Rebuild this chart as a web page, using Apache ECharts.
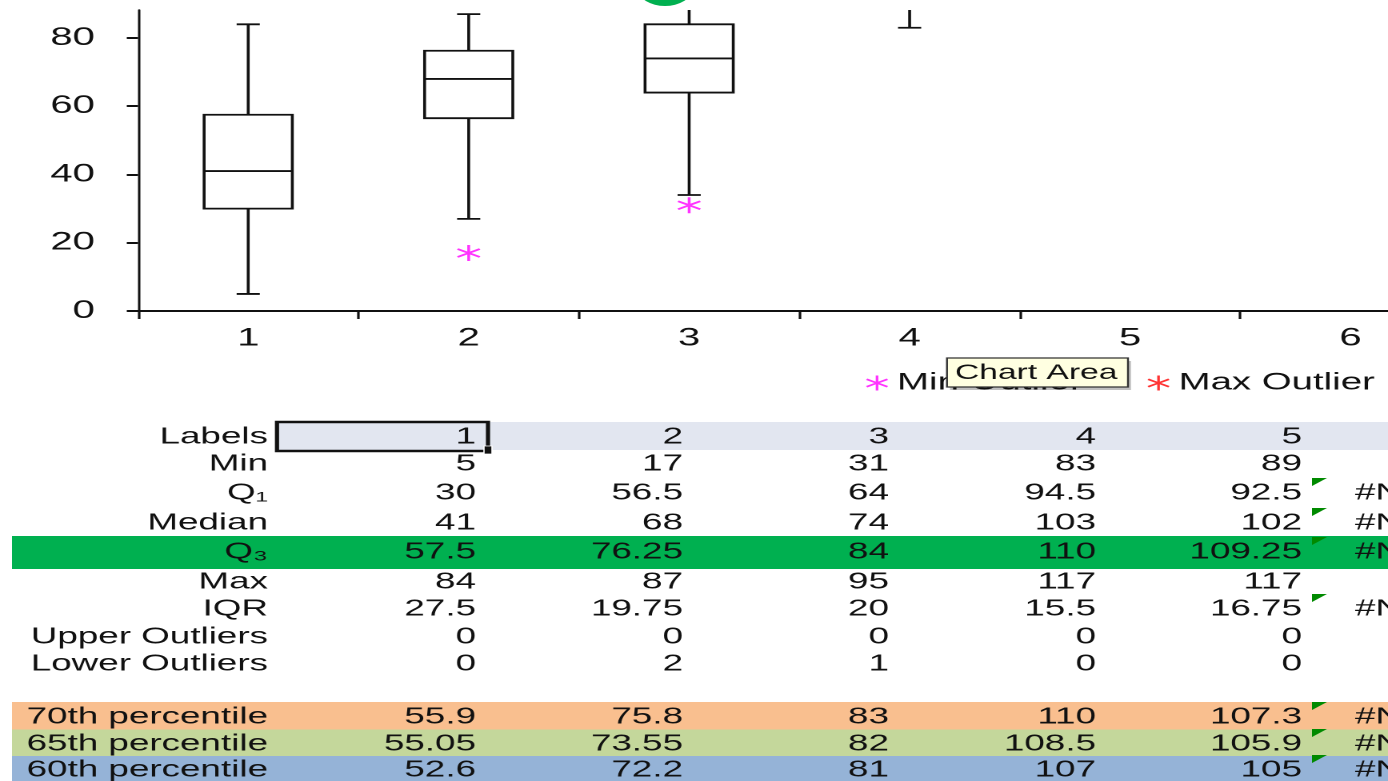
<!DOCTYPE html>
<html><head><meta charset="utf-8">
<script src="https://cdn.jsdelivr.net/npm/echarts@6/dist/echarts.min.js"></script>
<style>
html,body{margin:0;padding:0;background:#fff;overflow:hidden;width:1388px;height:781px;}
#chart{width:912.5px;height:781px;transform:scaleX(1.6);transform-origin:0 0;}
</style></head><body><div id="chart"></div>
<script>
// ---------- data ----------
const categories = ['1','2','3','4','5','6'];
const whiskerLow = [5, 27, 34, 83, 89];
const q1Vals = [30, 56.5, 64, 94.5, 92.5];
const medianVals = [41, 68, 74, 103, 102];
const q3Vals = [57.5, 76.25, 84, 110, 109.25];
const whiskerHigh = [84, 87, 95, 117, 117];
const minOutliers = [['2', 17], ['3', 31]];
const maxOutliers = [];
const yTickValues = [0, 20, 40, 60, 80];

// table rows
const rowNames = ['Labels','Min','Q\u2081','Median','Q\u2083','Max','IQR','Upper Outliers','Lower Outliers','70th percentile','65th percentile','60th percentile'];
const labelsRow = ['1','2','3','4','5'];
const minRow = [5, 17, 31, 83, 89];
const q1Row = [30, 56.5, 64, 94.5, 92.5];
const medianRow = [41, 68, 74, 103, 102];
const q3Row = [57.5, 76.25, 84, 110, 109.25];
const maxRow = [84, 87, 95, 117, 117];
const iqrRow = [27.5, 19.75, 20, 15.5, 16.75];
const upperOutRow = [0, 0, 0, 0, 0];
const lowerOutRow = [0, 2, 1, 0, 0];
const p70Row = [55.9, 75.8, 83, 110, 107.3];
const p65Row = [55.05, 73.55, 82, 108.5, 105.9];
const p60Row = [52.6, 72.2, 81, 107, 105];
const naFlags = [false,false,true,true,true,false,true,false,false,true,true,true];
const naText = '#N/A';

// ---------- layout (reference pixel space; x is divided by S) ----------
const S = 1.6;
const rowY = [436,463,492,522,551,581,608,636,663,716,743,769];
const colRight = [476,683,889,1096,1302];
const FONT = '"Liberation Sans", Arial, sans-serif';
const tableRows = [labelsRow,minRow,q1Row,medianRow,q3Row,maxRow,iqrRow,upperOutRow,lowerOutRow,p70Row,p65Row,p60Row];

// asterisk polygon path
function asteriskPath(){
  const c = 10, L = 10, w = 1.1, pts = [];
  for (let k = 0; k < 6; k++) {
    const a = k * Math.PI / 3;
    const d = [Math.sin(a), -Math.cos(a)], p = [Math.cos(a), Math.sin(a)];
    pts.push([c + L*d[0] - w*p[0], c + L*d[1] - w*p[1]]);
    pts.push([c + L*d[0] + w*p[0], c + L*d[1] + w*p[1]]);
    const b = a + Math.PI / 6;
    pts.push([c + 2*w*Math.sin(b), c - 2*w*Math.cos(b)]);
  }
  return 'path://M' + pts.map(q => q[0].toFixed(3) + ' ' + q[1].toFixed(3)).join(' L') + ' Z';
}
const STAR = asteriskPath();

const boxData = whiskerLow.map((v, i) => [i, v, q1Vals[i], medianVals[i], q3Vals[i], whiskerHigh[i]]);

// ---------- graphics (table etc.) ----------
const g = [];
const W = 1460 / S;
function band(y1, y2, x1, color){ g.push({type:'rect', z:1, shape:{x:x1/S, y:y1, width:W - x1/S, height:y2-y1}, style:{fill:color}}); }
band(422, 450, 277, '#E2E6F0');
band(536, 569, 12, '#00B050');
band(702, 729.5, 12, '#F9BF8F');
band(729.5, 756, 12, '#C4D79B');
band(756, 781, 12, '#95B3D7');

function txt(x, y, s, align, size){
  g.push({type:'text', z:10, x:x/S, y:y, style:{text:s, fill:'#111', font:(size||23)+'px '+FONT, textAlign:align, textVerticalAlign:'middle'}});
}
rowNames.forEach((n, r) => {
  txt(268, rowY[r] + 1, n, 'right');
  tableRows[r].forEach((v, c) => txt(colRight[c], rowY[r] + 1, String(v), 'right'));
  if (naFlags[r]) {
    txt(1355, rowY[r] + 1, naText, 'left');
    const t = rowY[r] - 14;
    g.push({type:'polygon', z:11, shape:{points:[[1312/S,t],[1327/S,t],[1312/S,t+8]]}, style:{fill:'#008A00'}});
  }
});
// selected cell
g.push({type:'rect', z:12, shape:{x:277/S, y:422, width:211/S, height:29}, style:{fill:null, stroke:'#111', lineWidth:2.6}});
g.push({type:'rect', z:13, shape:{x:484/S, y:446, width:8/S, height:8}, style:{fill:'#111', stroke:'#fff', lineWidth:0.8}});
// green handle at top
g.push({type:'circle', z:20, shape:{cx:665/S, cy:-10.6, r:16.6}, style:{fill:'#00B050'}});
// Chart Area hover tip
g.push({type:'rect', z:99, shape:{x:950/S, y:361, width:181/S, height:29}, style:{fill:'rgba(0,0,0,0.25)'}});
g.push({type:'rect', z:100, shape:{x:947/S, y:358, width:181/S, height:29}, style:{fill:'#FFFFE1', stroke:'#333', lineWidth:1.2}});
g.push({type:'text', z:101, x:955/S, y:373, style:{text:'Chart Area', fill:'#111', font:'21px '+FONT, textAlign:'left', textVerticalAlign:'middle'}});

const chart = echarts.init(document.getElementById('chart'), null, {devicePixelRatio: 2});
chart.setOption({
  animation: false,
  backgroundColor: '#fff',
  textStyle: {fontFamily: FONT},
  grid: {left: 138/S, top: 10, right: 0, bottom: 470, containLabel: false},
  xAxis: {
    type: 'category', data: categories, boundaryGap: true,
    axisLine: {lineStyle: {color: '#111', width: 2}},
    axisTick: {show: true, length: 8, lineStyle: {color: '#111', width: 1.6}},
    axisLabel: {color: '#111', fontSize: 25, fontFamily: FONT, margin: 15}
  },
  yAxis: {
    type: 'value', min: 0, max: 88.2, interval: 20,
    splitLine: {show: false},
    axisLine: {show: true, lineStyle: {color: '#111', width: 1.5}},
    axisTick: {show: true, length: 7, lineStyle: {color: '#111', width: 2}, customValues: yTickValues},
    axisLabel: {color: '#111', fontSize: 25, fontFamily: FONT, margin: 27, customValues: yTickValues}
  },
  legend: {
    left: 866/S, top: 371, padding: 0, itemGap: 40.5, itemWidth: 15, itemHeight: 15,
    textStyle: {fontSize: 24, color: '#111', fontFamily: FONT},
    data: ['Min Outlier', 'Max Outlier']
  },
  series: [
    {
      type: 'custom', clip: true, data: boxData,
      encode: {x: 0, y: [1,2,3,4,5]},
      renderItem: function(params, api){
        const x = api.value(0);
        const pL = api.coord([x, api.value(1)]);
        const p1 = api.coord([x, api.value(2)]);
        const pm = api.coord([x, api.value(3)]);
        const p3 = api.coord([x, api.value(4)]);
        const pH = api.coord([x, api.value(5)]);
        const bandW = api.size([1, 0])[0];
        const bw = bandW * 0.4 / 2, cw = bandW * 0.105 / 2, cx = pL[0];
        const st = {stroke: '#111', lineWidth: 1.8, fill: null};
        const cs = params.coordSys;
        return {type: 'group',
          clipPath: {type: 'rect', shape: {x: cs.x, y: cs.y, width: cs.width, height: cs.height}},
          children: [
            {type: 'line', shape: {x1: cx, y1: pL[1], x2: cx, y2: p1[1]}, style: st},
            {type: 'line', shape: {x1: cx, y1: p3[1], x2: cx, y2: pH[1]}, style: st},
            {type: 'line', shape: {x1: cx-cw, y1: pL[1], x2: cx+cw, y2: pL[1]}, style: st},
            {type: 'line', shape: {x1: cx-cw, y1: pH[1], x2: cx+cw, y2: pH[1]}, style: st},
            {type: 'rect', shape: {x: cx-bw, y: p3[1], width: 2*bw, height: p1[1]-p3[1]}, style: st},
            {type: 'line', shape: {x1: cx-bw, y1: pm[1], x2: cx+bw, y2: pm[1]}, style: st}
          ]};
      }
    },
    {name: 'Min Outlier', type: 'scatter', symbol: STAR, symbolSize: 16, symbolKeepAspect: true,
     itemStyle: {color: '#FF00FF'}, data: minOutliers.map(d => [categories.indexOf(d[0]), d[1]])},
    {name: 'Max Outlier', type: 'scatter', symbol: STAR, symbolSize: 16, symbolKeepAspect: true,
     itemStyle: {color: '#FF0000'}, data: maxOutliers}
  ],
  graphic: {elements: g}
});
</script></body></html>
